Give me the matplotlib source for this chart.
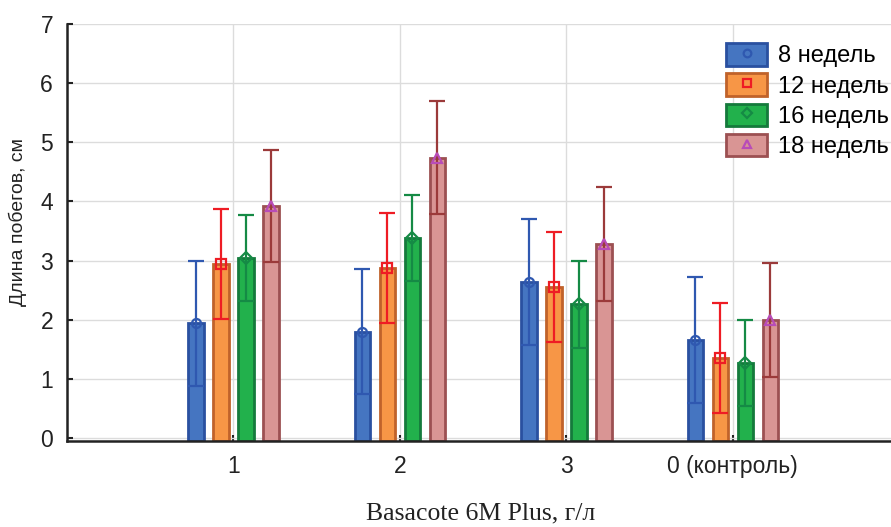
"""grouped bar chart: shoot length by Basacote dose"""

import matplotlib.pyplot as plt
import numpy as np
from matplotlib.patches import Rectangle
from matplotlib.lines import Line2D

plt.rcParams['font.family'] = ['Liberation Sans', 'DejaVu Sans']

# data
categories = ['1', '2', '3', '0 (контроль)']
series_names = ['8 недель', '12 недель', '16 недель', '18 недель']
w8 = [1.94, 1.80, 2.64, 1.66]
w8_err = [1.06, 1.05, 1.06, 1.06]
w12 = [2.94, 2.88, 2.56, 1.35]
w12_err = [0.93, 0.93, 0.93, 0.93]
w16 = [3.04, 3.38, 2.26, 1.27]
w16_err = [0.73, 0.73, 0.73, 0.73]
w18 = [3.92, 4.74, 3.28, 2.00]
w18_err = [0.95, 0.95, 0.96, 0.96]

means = [w8, w12, w16, w18]
errs = [w8_err, w12_err, w16_err, w18_err]

# styles
fills = ['#4575c1', '#f79646', '#22b14c', '#d99594']
edges = ['#2a50a0', '#c0622a', '#157a3c', '#9c5052']
err_colors = ['#2f58b0', '#ee1c24', '#158a45', '#9b3a3a']
mark_colors = ['#2f58b0', '#ee1c24', '#158a45', '#b84cb8']
markers = ['o', 's', 'D', '^']

fig = plt.figure(figsize=(8.91, 5.27), dpi=100)
ax = fig.add_axes([67 / 891, 86 / 527, 1 - 67 / 891, 417 / 527])

x = np.arange(1, len(categories) + 1)
step = 0.15
width = 0.093
y_bottom = -0.05

handles = []
for i in range(4):
    xi = x + (i - 1.5) * step
    m = np.array(means[i])
    ax.bar(xi, m - y_bottom, bottom=y_bottom, width=width, color=fills[i],
           edgecolor=edges[i], linewidth=2, zorder=2)
    ax.errorbar(xi, m, yerr=errs[i], fmt='none', ecolor=err_colors[i],
                elinewidth=1.6, capsize=6, capthick=1.6, zorder=3)
    ax.plot(xi, m, linestyle='none', marker=markers[i], markersize=6.5,
            markerfacecolor='none', markeredgecolor=mark_colors[i],
            markeredgewidth=1.6, zorder=4)
    box = Rectangle((0, 0), 1, 1, facecolor=fills[i], edgecolor=edges[i], linewidth=2)
    mk = Line2D([], [], linestyle='none', marker=markers[i], markersize=5.5,
                markerfacecolor='none', markeredgecolor=mark_colors[i],
                markeredgewidth=1.6)
    handles.append((box, mk))

ax.set_xlim(0, 4.95)
ax.set_ylim(y_bottom, 7)
ax.set_xticks(x)
ax.set_xticklabels(categories)
ax.set_yticks(range(0, 8))
ax.tick_params(direction='in', length=4, width=1.5, labelsize=16.5, colors='#222222')
ax.tick_params(axis='x', pad=10)
ax.tick_params(axis='y', pad=10)

ax.grid(True, color='#dcdcdc', linewidth=1, zorder=0)
ax.set_axisbelow(True)
for s in ['top', 'right']:
    ax.spines[s].set_visible(False)
for s in ['left', 'bottom']:
    ax.spines[s].set_linewidth(1.8)
    ax.spines[s].set_color('#222222')

ax.set_ylabel('Длина побегов, см', fontsize=14, color='#222222')
ax.yaxis.set_label_coords(-0.048, 0.525)
fig.text(0.539, 0.004, 'Basacote 6M Plus, г/л', family='Liberation Serif',
         fontsize=18.5, ha='center', va='bottom', color='#222222')

ax.legend(handles, series_names, loc='upper right', frameon=False, fontsize=17,
          handlelength=1.74, handleheight=1.1, handletextpad=0.45,
          labelspacing=0.25, borderaxespad=0.0, borderpad=0.1,
          bbox_to_anchor=(1.0, 0.96))

fig.savefig('out.png', dpi=100)
